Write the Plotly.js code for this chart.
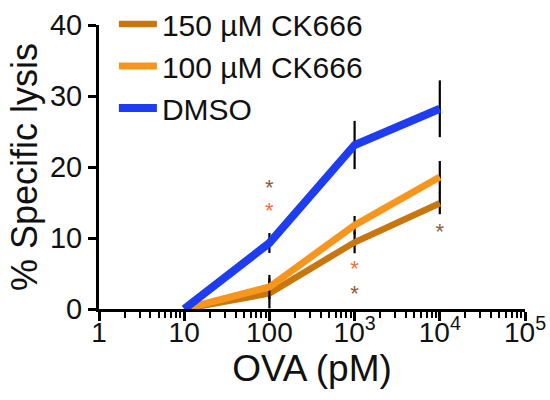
<!DOCTYPE html>
<html>
<head>
<meta charset="utf-8">
<script src="https://cdn.plot.ly/plotly-3.0.1.min.js"></script>
<style>
  html, body { margin: 0; padding: 0; background: #fff; }
  #chart { width: 550px; height: 400px; }
</style>
</head>
<body>
<div id="chart"></div>
<script>
(() => {
    "use strict";

    // OVA concentration (pM)
    const ova = [10, 100, 1000, 10000];

    const seriesNames = ["150 µM CK666", "100 µM CK666", "DMSO"];
    const ck150 = [0, 2.2, 9.4, 14.9];
    const ck150Err = [0, 2.1, 1.55, 1.55];
    const ck100 = [0, 3.1, 11.8, 18.6];
    const ck100Err = [0, 1.7, 1.3, 2.25];
    const dmso = [0, 9.3, 23.1, 28.2];
    const dmsoErr = [0, 1.4, 3.4, 4.0];

    // significance marks
    const star150X = [100, 1000, 10000];
    const star150Y = [16.8, 1.9, 10.6];
    const star100X = [100, 1000];
    const star100Y = [13.6, 5.4];

    const tickVals = [1, 10, 100, 1000, 10000, 100000];
    const tickText = ["1", "10", "100", "10<sup>3</sup>", "10<sup>4</sup>", "10<sup>5</sup>"];

    const colors = { ck150: "#C8770F", ck100: "#F8951D", dmso: "#1E3CF2" };
    const starColors = { ck150: "#8E5A38", ck100: "#F0703A" };
    const font = "Liberation Sans, Arial, sans-serif";

    const lineTrace = (name, y, err, color, w) => ({
        x: ova, y, name,
        type: "scatter", mode: "lines",
        line: { color, width: w },
        error_y: { type: "data", array: err, visible: true, color: "#000", thickness: 2.2, width: 0 },
    });

    const starTrace = (x, y, color) => ({
        x, y, type: "scatter", mode: "text",
        text: x.map(() => "*"), textfont: { family: font, size: 22, color },
        showlegend: false, hoverinfo: "skip",
    });

    const traces = [
        lineTrace(seriesNames[0], ck150, ck150Err, colors.ck150, 6.5),
        lineTrace(seriesNames[1], ck100, ck100Err, colors.ck100, 7),
        lineTrace(seriesNames[2], dmso, dmsoErr, colors.dmso, 8),
        starTrace(star150X, star150Y, starColors.ck150),
        starTrace(star100X, star100Y, starColors.ck100),
    ];

    const layout = {
        width: 550, height: 400,
        margin: { l: 99, r: 25, t: 25, b: 91, autoexpand: false },
        paper_bgcolor: "#fff", plot_bgcolor: "#fff",
        font: { family: font, color: "#111" },
        showlegend: true,
        legend: {
            x: 0.035, y: 1.095, xanchor: "left", yanchor: "top",
            font: { family: font, size: 30, color: "#111" },
            bgcolor: "rgba(0,0,0,0)", tracegroupgap: 0, itemwidth: 38,
        },
        xaxis: {
            type: "log", range: [0, 5],
            tickmode: "array", tickvals: tickVals, ticktext: tickText,
            ticks: "outside", ticklen: 9, tickwidth: 2.5, tickcolor: "#000",
            ticklabelstandoff: -13,
            minor: { ticks: "outside", ticklen: 6, tickwidth: 2, tickcolor: "#000", dtick: "D1", showgrid: false },
            showline: true, linecolor: "#000", linewidth: 3,
            showgrid: false, zeroline: false,
            tickfont: { family: font, size: 28, color: "#111" },
            title: { text: "OVA (pM)", font: { family: font, size: 37, color: "#111" }, standoff: 6 },
        },
        yaxis: {
            range: [0, 40], tickvals: [0, 10, 20, 30, 40],
            ticks: "outside", ticklen: 8, tickwidth: 2.5, tickcolor: "#000",
            showline: true, linecolor: "#000", linewidth: 3,
            showgrid: false, zeroline: false,
            tickfont: { family: font, size: 29, color: "#111" },
            title: { text: "% Specific lysis", font: { family: font, size: 36, color: "#111" }, standoff: 2 },
        },
    };

    Plotly.newPlot("chart", traces, layout, { displayModeBar: false, responsive: false });
})();
</script>
</body>
</html>
